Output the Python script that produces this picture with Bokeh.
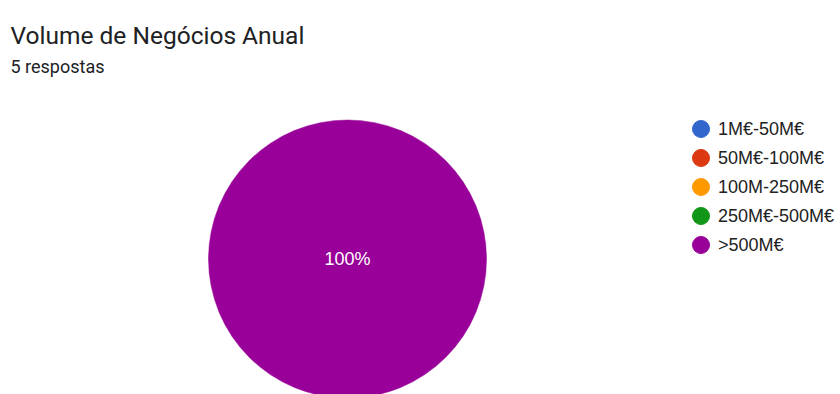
import math
from bokeh.plotting import figure
from bokeh.models import Range1d, ColumnDataSource
from bokeh.core.properties import value
from bokeh.embed import file_html
from bokeh.resources import INLINE

title_text = "Volume de Negócios Anual"
subtitle_text = "5 respostas"
categories = ["1M€-50M€", "50M€-100M€", "100M-250M€", "250M€-500M€", ">500M€"]
counts = [0, 0, 0, 0, 5]
colors = ["#3366cc", "#dc3912", "#ff9900", "#109618", "#990099"]

W, H = 840, 394
p = figure(width=W, height=H, x_range=Range1d(0, W), y_range=Range1d(H, 0),
           x_axis_type=None, y_axis_type=None, min_border=0,
           output_backend="svg", toolbar_location=None)
p.outline_line_color = None
p.grid.visible = False
p.background_fill_color = "white"

# pie
cx, cy, r = 347, 258.5, 139
total = sum(counts)
starts, ends, cols = [], [], []
full_cols = []
labx, laby, labs = [], [], []
acc = 0.0
for c, col in zip(counts, colors):
    if c <= 0:
        continue
    frac = c / total
    a0 = -math.pi / 2 + acc * 2 * math.pi
    a1 = a0 + frac * 2 * math.pi
    if frac >= 0.999:
        full_cols.append(col)  # a full turn is drawn as a circle
        labx.append(cx)
        laby.append(cy)
    else:
        starts.append(a0)
        ends.append(a1)
        cols.append(col)
        m = (a0 + a1) / 2
        labx.append(cx + 0.6 * r * math.cos(m))
        laby.append(cy + 0.6 * r * math.sin(m))
    labs.append(f"{round(frac * 100)}%")
    acc += frac

if starts:
    src = ColumnDataSource(dict(x=[cx] * len(starts), y=[cy] * len(starts),
                                s=starts, e=ends, c=cols))
    p.wedge(x="x", y="y", radius=r, start_angle="s", end_angle="e",
            fill_color="c", line_color="white", line_width=1, source=src)
if full_cols:
    p.circle(x=[cx] * len(full_cols), y=[cy] * len(full_cols), radius=r,
             fill_color=full_cols, line_color=full_cols, line_width=0.5)
p.text(x=labx, y=laby, text=labs, text_color="white", text_font=value("Liberation Sans"),
       text_font_size="18px", text_align="center", text_baseline="middle")

# titles
p.text(x=[10], y=[35], text=[title_text], text_color="#202124",
       text_font=value("Roboto"), text_font_size="24.5px", text_baseline="alphabetic")
p.text(x=[10], y=[66], text=[subtitle_text], text_color="#202124",
       text_font=value("Roboto"), text_font_size="18px", text_baseline="alphabetic")

# legend
lx, ly0, dy = 700.5, 128.5, 29
ly = [ly0 + i * dy for i in range(len(categories))]
p.scatter(x=[lx] * len(categories), y=ly, size=17, marker="circle",
          fill_color=colors, line_color=colors)
p.text(x=[lx + 17] * len(categories), y=ly, text=categories, text_color="#222222",
       text_font=value("Liberation Sans"), text_font_size="18px",
       text_baseline="middle")

open("out.html", "w").write(file_html(p, INLINE))
